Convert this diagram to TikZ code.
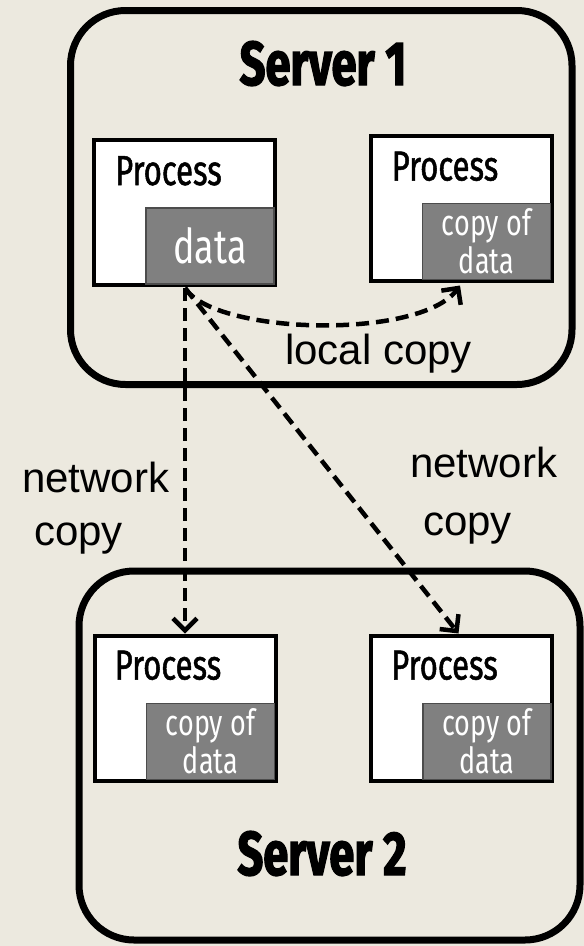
\documentclass[tikz,border=0pt]{standalone}
\usepackage{fontspec}
\setmainfont{Liberation Sans}
\newfontfamily\condfont[FakeStretch=0.75]{Fira Sans}
\newfontfamily\procfont[FakeStretch=0.74,FakeBold=1.2]{Fira Sans}
\newfontfamily\headfont[FakeStretch=0.73,BoldFeatures={FakeBold=2}]{Fira Sans}
\usetikzlibrary{arrows.meta,calc}
\definecolor{bg}{RGB}{236,233,223}
\definecolor{datagray}{RGB}{128,128,128}
\begin{document}
\begin{tikzpicture}[x=1pt,y=-1pt,
  server/.style={draw=black, line width=7pt, rounded corners=55pt, inner sep=0pt, outer sep=0pt},
  procbox/.style={draw=black, fill=white, line width=4pt, minimum width=181pt, minimum height=145pt, inner sep=0pt, outer sep=0pt},
  databox/.style={draw=black!70, fill=datagray, line width=1.5pt, minimum width=128pt, minimum height=76pt,
    inner sep=0pt, outer sep=0pt, text=white, align=center, anchor=south east},
  copytext/.style={font=\condfont\fontsize{36}{38}\selectfont},
  datatext/.style={font=\condfont\fontsize{48}{50}\selectfont},
  proclabel/.style={anchor=base west, inner sep=0pt, font=\procfont\fontsize{42}{44}\selectfont},
  servlabel/.style={anchor=base, inner sep=0pt, font=\headfont\bfseries\fontsize{62}{64}\selectfont},
  lbl/.style={anchor=base west, inner sep=0pt, font=\fontsize{42}{46}\selectfont},
  flow/.style={line width=4.5pt, dash pattern=on 13pt off 7pt, -{Straight Barb[length=12pt,width=24pt]}}
]
% page background
\fill[bg] (0,0) rectangle (584,946);
\useasboundingbox (0,0) rectangle (584,946);

% servers
\node[server, minimum width=501.5pt, minimum height=374pt] (s1) at (321.25,197.5) {};
\node[server, minimum width=501pt, minimum height=369pt] (s2) at (329.5,755.5) {};
\node[servlabel] (s1t) at (323,85) {Server 1};
\node[servlabel] (s2t) at (322,875) {Server 2};

% processes on server 1
\node[procbox] (p1) at (184.5,212.5) {};
\node[databox, datatext] (d1) at ($(p1.south east)+(-1,-1)$) {data};
\node[proclabel] (p1t) at ($(p1.north west)+(21,45)$) {Process};

\node[procbox] (p2) at (461,208) {};
\node[databox, copytext] (d2) at ($(p2.south east)+(-1,-1)$) {copy of\\data};
\node[proclabel] (p2t) at ($(p2.north west)+(21,45)$) {Process};

% processes on server 2
\node[procbox] (p3) at (185,708) {};
\node[databox, copytext] (d3) at ($(p3.south east)+(-1,-1)$) {copy of\\data};
\node[proclabel] (p3t) at ($(p3.north west)+(20,44)$) {Process};

\node[procbox] (p4) at (461.5,708) {};
\node[databox, copytext] (d4) at ($(p4.south east)+(-1,-1)$) {copy of\\data};
\node[proclabel] (p4t) at ($(p4.north west)+(20,44)$) {Process};

% copy paths
\coordinate (src) at ($(d1.south west)+(39,4)$);
\coordinate (lt) at ($(p2.south)+(-1,5)$);
\coordinate (vt) at ($(src |- p3.north)+(0,-2)$);
\coordinate (dt) at ($(p4.north)+(-3,-2)$);

\draw[flow] (src) .. controls (215,335) and (420,340) .. (lt);
\draw[flow] (src) -- (vt);
\draw[flow] (src) -- (dt);

% labels
\node[lbl] (lc) at (285,364) {local copy};
\node[lbl] (n1) at (22,492) {network};
\node[lbl] (c1) at (34,545) {copy};
\node[lbl] (n2) at (410,477) {network};
\node[lbl] (c2) at (423,535) {copy};
\end{tikzpicture}
\end{document}
